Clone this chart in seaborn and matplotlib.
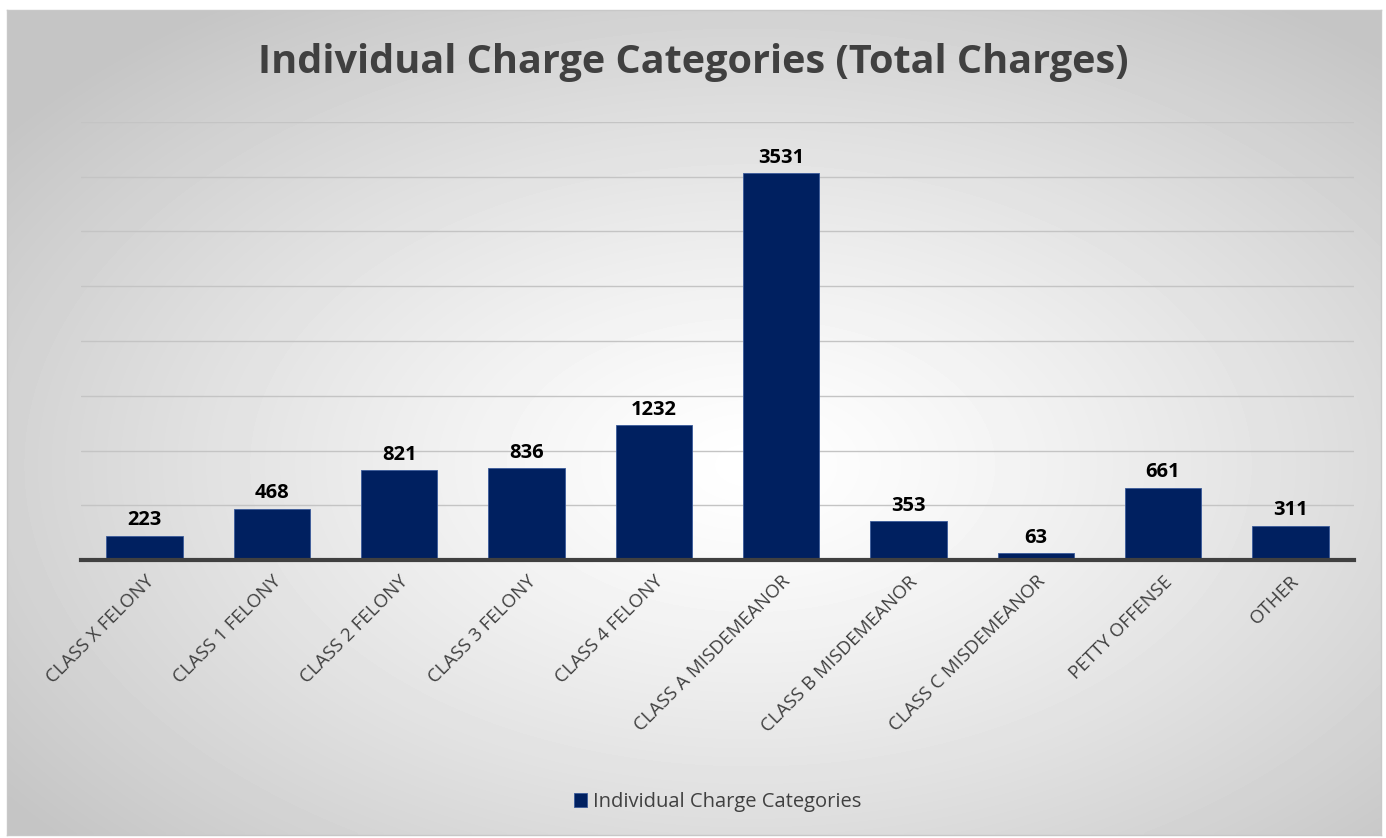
import numpy as np
import pandas as pd
import matplotlib
matplotlib.use("Agg")
import matplotlib.pyplot as plt
import seaborn as sns

# data
categories = ["CLASS X FELONY", "CLASS 1 FELONY", "CLASS 2 FELONY", "CLASS 3 FELONY",
              "CLASS 4 FELONY", "CLASS A MISDEMEANOR", "CLASS B MISDEMEANOR",
              "CLASS C MISDEMEANOR", "PETTY OFFENSE", "OTHER"]
charges = [223, 468, 821, 836, 1232, 3531, 353, 63, 661, 311]
series_name = "Individual Charge Categories"
title = "Individual Charge Categories (Total Charges)"

df = pd.DataFrame({"category": categories, "charges": charges})

sns.set_theme(style="white")
plt.rcParams["font.family"] = ["Open Sans", "DejaVu Sans"]

W, H = 1386, 838
fig = plt.figure(figsize=(W / 100, H / 100), dpi=100)
fig.patch.set_facecolor("white")

# radial gradient background panel (white centre, grey edges)
bg = fig.add_axes([7 / W, 3 / H, (1381 - 7) / W, (835 - 10) / H], zorder=0)
yy, xx = np.mgrid[0:200, 0:330]
cx, cy = 0.54 * 330, 0.55 * 200
r = np.sqrt(((xx - cx) / 330) ** 2 + ((yy - cy) / 200) ** 2) / 0.68
r = np.clip(r, 0, 1)
shade = 1.0 - 0.23 * r ** 1.25
bg.imshow(shade, cmap="gray", vmin=0, vmax=1, aspect="auto", interpolation="bilinear")
bg.set_xticks([])
bg.set_yticks([])
for s in bg.spines.values():
    s.set_color("#c8c8c8")
    s.set_linewidth(1)

ax = fig.add_axes([81 / W, 1 - 560 / H, (1354 - 81) / W, (560 - 122) / H], zorder=1)
ax.patch.set_alpha(0)

sns.barplot(data=df, x="category", y="charges", ax=ax, color="#002060",
            width=0.6, saturation=1, edgecolor="#3a5a9a", linewidth=0.6,
            label=series_name, zorder=3)

ax.set_ylim(0, 4000)
ax.set_xlim(-0.5, len(categories) - 0.5)
ax.set_yticks(np.arange(0, 4001, 500))
ax.set_yticklabels([])
ax.tick_params(axis="y", length=0)
ax.grid(axis="y", color="#c4c4c4", linewidth=1.0, zorder=0)
ax.set_axisbelow(True)
for s in ["top", "right", "left"]:
    ax.spines[s].set_visible(False)
ax.spines["bottom"].set_color("#404040")
ax.spines["bottom"].set_linewidth(3)
ax.spines["bottom"].set_zorder(4)

ax.set_xlabel("")
ax.set_ylabel("")
ax.tick_params(axis="x", length=0, pad=9)
ax.set_xticks(range(len(categories)))
ax.set_xticklabels(categories, rotation=45, ha="right", rotation_mode="anchor",
                   fontsize=13.5, color="#404040")
for lbl in ax.get_xticklabels():
    lbl.set_x(lbl.get_position()[0])

for c in ax.containers:
    ax.bar_label(c, labels=[str(v) for v in charges], padding=4,
                 fontsize=14.5, fontweight="bold", color="black")

fig.text(0.5, 1 - 62 / H, title, ha="center", va="center",
         fontsize=28.5, fontweight="bold", color="#404040")

ax.legend(loc="center", bbox_to_anchor=(0.5, (560 - 802) / (560 - 122)),
          frameon=False, fontsize=14.5, handlelength=0.65, handleheight=0.65,
          handletextpad=0.3, labelcolor="#404040")

fig.savefig("out.png", dpi=100)
